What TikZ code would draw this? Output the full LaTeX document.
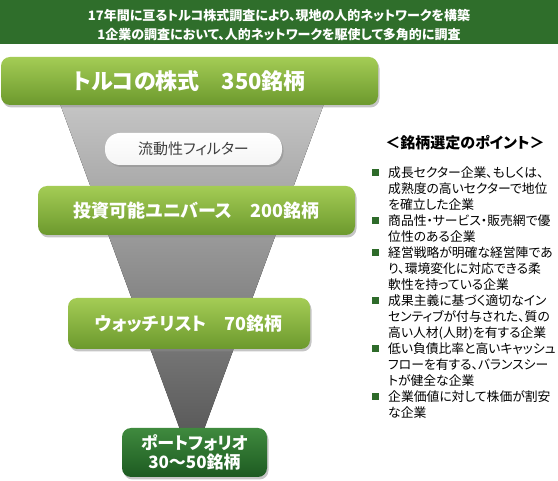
\documentclass[tikz,border=0pt]{standalone}
\usepackage{fontspec}
\setmainfont{Noto Sans CJK JP}[RawFeature=+palt]
\usepackage{tikz}
\usetikzlibrary{shadows}
\definecolor{hdrgreen}{HTML}{2F6E2B}
\definecolor{stagetop}{HTML}{A4CC55}
\definecolor{stagebot}{HTML}{6C992D}
\definecolor{finaltop}{HTML}{3F8A3E}
\definecolor{finalbot}{HTML}{1D5A21}
\definecolor{funneltop}{HTML}{C6C6C6}
\definecolor{funnelbot}{HTML}{505050}
\definecolor{pilltext}{HTML}{404040}
\definecolor{bullet}{HTML}{2E6B2A}
\tikzset{
  stage/.style={
    rectangle,
    rounded corners=9pt,
    top color=stagetop,
    bottom color=stagebot,
    text=white,
    inner sep=0pt,
    font=\bfseries\fontsize{18}{20}\selectfont,
    drop shadow={shadow xshift=1.5pt, shadow yshift=-2.5pt, fill=black!45},
  },
  final/.style={
    stage,
    top color=finaltop,
    bottom color=finalbot,
    align=center,
    font=\bfseries\fontsize{17}{19}\selectfont,
  },
  pill/.style={
    rectangle,
    rounded corners=15pt,
    top color=white,
    bottom color=black!4,
    text=pilltext,
    inner sep=0pt,
    font=\fontsize{15}{17}\selectfont,
    drop shadow={shadow xshift=1.5pt, shadow yshift=-2pt, fill=black!45},
  },
  point/.style={
    anchor=north west,
    inner sep=0pt,
    align=left,
    font=\fontsize{12.8}{16}\selectfont,
  },
  sq/.style={fill=bullet, inner sep=0pt, minimum size=7pt},
}

\begin{document}
\begin{tikzpicture}[x=1pt,y=-1pt]
  \useasboundingbox (0,0) rectangle (558,481);
  \fill[white] (0,0) rectangle (558,481);

  % header band
  \fill[hdrgreen] (0,0) rectangle (558,44);
  \node[text=white, align=center, font=\bfseries\fontsize{13}{18.5}\selectfont] (hdr) at (279,25)
    {17年間に亘るトルコ株式調査により、現地の人的ネットワークを構築\\1企業の調査において、人的ネットワークを駆使して多角的に調査};

  % funnel
  \fill[top color=funneltop, bottom color=funnelbot] (58.6,100) -- (325.4,100) -- (192,462) -- cycle;

  % stages
  \node[stage, minimum width=377pt, minimum height=48pt, font=\bfseries\fontsize{22}{24}\selectfont] (all) at (189.5,81) {トルコの株式　350銘柄};
  \node[pill, minimum width=177pt, minimum height=32pt] (filter) at (193.5,149) {流動性フィルター};
  \node[stage, minimum width=317pt, minimum height=49pt] (univ) at (196.5,210.5) {投資可能ユニバース　200銘柄};
  \node[stage, minimum width=242pt, minimum height=51pt] (watch) at (189,323.5) {ウォッチリスト　70銘柄};
  \node[final, minimum width=145pt, minimum height=49pt] (port) at (194.5,452.5) {ポートフォリオ\\30～50銘柄};

  % selection points
  \node[font=\bfseries\fontsize{15}{17}\selectfont] (head) at (465,143) {＜銘柄選定のポイント＞};
  \foreach \n/\txt in {
    0/{成長セクター企業、もしくは、\\成熟度の高いセクターで地位\\を確立した企業},
    3/{商品性・サービス・販売網で優\\位性のある企業},
    5/{経営戦略が明確な経営陣であ\\り、環境変化に対応できる柔\\軟性を持っている企業},
    8/{成果主義に基づく適切なイン\\センティブが付与された、質の\\高い人材(人財)を有する企業},
    11/{低い負債比率と高いキャッシュ\\フローを有する、バランスシー\\トが健全な企業},
    14/{企業価値に対して株価が割安\\な企業}} {
    \node[sq] (b\n) at (375.5,{173+16*\n}) {};
    \node[point] (p\n) at (388,{166.5+16*\n}) {\txt};
  }
\end{tikzpicture}
\end{document}
